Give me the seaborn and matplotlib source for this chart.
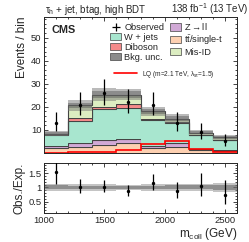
import numpy as np
import matplotlib
matplotlib.use("Agg")
import matplotlib.pyplot as plt
import seaborn as sns
from matplotlib.patches import Patch
from matplotlib.lines import Line2D

sns.set_theme(style="ticks")
plt.rcParams['font.family'] = ['Liberation Sans', 'DejaVu Sans']
plt.rcParams['mathtext.fontset'] = 'custom'
plt.rcParams['mathtext.rm'] = 'Liberation Sans'
plt.rcParams['mathtext.it'] = 'Liberation Sans:italic'

# ---- data ----
bin_edges = [1000, 1200, 1400, 1600, 1800, 2000, 2200, 2400, 2600]
bin_centers = [1100, 1300, 1500, 1700, 1900, 2100, 2300, 2500]
ttbar = [2.0, 2.7, 3.4, 4.2, 2.0, 2.7, 1.3, 0.9]
zll = [0.8, 1.4, 2.0, 2.0, 1.0, 1.8, 0.3, 0.2]
wjets = [5.2, 9.6, 13.6, 13.5, 11.3, 8.4, 6.2, 4.5]
diboson = [0.1, 1.4, 1.1, 1.5, 0.3, 0.7, 0.2, 0.2]
misid = [0.3, 5.5, 5.1, 4.1, 3.4, 1.2, 0.7, 0.9]
signal = [0.1, 0.2, 0.3, 1.2, 3.8, 5.1, 1.5, 0.6]
observed = [13, 21, 26, 22, 21, 13, 9, 5]
obs_err_lo = [3.6, 4.6, 5.1, 4.7, 4.6, 3.6, 2.9, 2.2]
obs_err_hi = [4.7, 5.6, 6.2, 5.8, 5.6, 4.7, 4.1, 3.4]
unc_inner = [0.07, 0.06, 0.06, 0.06, 0.06, 0.07, 0.07, 0.08]
unc_outer = [0.12, 0.12, 0.11, 0.10, 0.11, 0.13, 0.13, 0.15]

colors = {
    "tt": "#fdd0b1",
    "zll": "#d1a9d6",
    "wjets": "#a8e6cf",
    "diboson": "#f48a8a",
    "misid": "#dcedc1",
}
edgec = "#444444"

fig = plt.figure(figsize=(2.49, 2.42), dpi=100)
ax = fig.add_axes([0.177, 0.368, 0.775, 0.562])
axr = fig.add_axes([0.177, 0.12, 0.775, 0.206], sharex=ax)

edges = np.array(bin_edges, dtype=float)
comps = [(ttbar, "tt"), (zll, "zll"), (wjets, "wjets"), (diboson, "diboson"), (misid, "misid")]
bottom = np.zeros(len(bin_centers))
for vals, key in comps:
    v = np.array(vals)
    top = bottom + v
    ax.stairs(top, edges, baseline=bottom, fill=True, color=colors[key], lw=0)
    ax.stairs(top, edges, baseline=None, color=edgec, lw=0.8)
    bottom = top
total = bottom
inner = np.array(unc_inner) * total
outer = np.array(unc_outer) * total
ax.stairs(total + outer, edges, baseline=total - outer, fill=True, color="#777777", alpha=0.5, lw=0)
ax.stairs(total + inner, edges, baseline=total - inner, fill=True, color="#555555", alpha=0.45, lw=0)
ax.stairs(np.array(signal), edges, baseline=None, color="red", lw=1.2)

sns.scatterplot(x=bin_centers, y=observed, ax=ax, color="black", s=6, marker="o", linewidth=0, zorder=5, legend=False)
ax.errorbar(bin_centers, observed, yerr=[obs_err_lo, obs_err_hi], fmt="none", ecolor="black", elinewidth=0.9, capsize=0, zorder=5)

ax.set_xlim(1000, 2600)
ax.set_ylim(0, 59)
ax.set_yticks([10, 20, 30, 40, 50])
ax.set_ylabel("Events / bin", fontsize=8.5, loc="top", labelpad=2)
ax.tick_params(axis="both", which="both", direction="in", top=True, right=True, labelsize=6.8, length=3, width=0.6, pad=2)
ax.minorticks_on()
ax.tick_params(which="minor", length=1.5)
plt.setp(ax.get_xticklabels(), visible=False)
for s in ax.spines.values():
    s.set_linewidth(0.7)

ax.text(0.04, 0.94, "CMS", transform=ax.transAxes, fontsize=7.8, fontweight="bold", va="top", ha="left")
fig.text(0.18, 0.947, r"$\mathregular{\tau_h}$ + jet, btag, high BDT", fontsize=7, ha="left", va="baseline")
fig.text(0.998, 0.947, r"138 fb$\mathregular{^{-1}}$ (13 TeV)", fontsize=7, ha="right", va="baseline")

handles = [
    Line2D([], [], color="black", marker="+", markersize=5.5, lw=0, markeredgewidth=0.9),
    Patch(facecolor=colors["wjets"], edgecolor=edgec, lw=0.5),
    Patch(facecolor=colors["diboson"], edgecolor=edgec, lw=0.5),
    Patch(facecolor="#8c8c8c", edgecolor=edgec, lw=0.5),
    Patch(facecolor=colors["zll"], edgecolor=edgec, lw=0.5),
    Patch(facecolor=colors["tt"], edgecolor=edgec, lw=0.5),
    Patch(facecolor=colors["misid"], edgecolor=edgec, lw=0.5),
]
labels = ["Observed", "W + jets", "Diboson", "Bkg. unc.", r"Z$\rightarrow$ll",
          r"t$\mathregular{\bar{t}}$/single-t", "Mis-ID"]
leg = ax.legend(handles, labels, ncol=2, loc="upper left",
                bbox_to_anchor=(0.415, 0.94), bbox_transform=fig.transFigure,
                fontsize=6.7, frameon=False, handlelength=1.25, handleheight=0.85,
                handletextpad=0.3, columnspacing=0.6, labelspacing=0.1, borderpad=0.2)
ax.add_artist(leg)
leg2 = ax.legend([Line2D([], [], color="red", lw=1.2)],
                 [r"LQ (m=2.1 TeV, $\mathregular{\lambda_{s\tau}}$=1.5)"],
                 loc="upper left", bbox_to_anchor=(0.44, 0.735), bbox_transform=fig.transFigure,
                 fontsize=4.7, frameon=False,
                 handlelength=3.5, handletextpad=0.8, borderpad=0.2)

# ratio panel
ratio = np.array(observed) / total
r_lo = np.array(obs_err_lo) / total
r_hi = np.array(obs_err_hi) / total
axr.stairs(1 + np.array(unc_outer), edges, baseline=1 - np.array(unc_outer), fill=True, color="#8a8a8a", alpha=0.5, lw=0)
axr.stairs(1 + np.array(unc_inner), edges, baseline=1 - np.array(unc_inner), fill=True, color="#5a5a5a", alpha=0.5, lw=0)
sns.scatterplot(x=bin_centers, y=ratio, ax=axr, color="black", s=6, marker="o", linewidth=0, zorder=5, legend=False)
axr.errorbar(bin_centers, ratio, yerr=[r_lo, r_hi], fmt="none", ecolor="black", elinewidth=0.9, capsize=0, zorder=5)
axr.set_ylim(0.1, 1.86)
axr.set_yticks([0.5, 1.0, 1.5])
axr.set_yticklabels(["0.5", "1", "1.5"])
axr.set_xticks([1000, 1500, 2000, 2500])
axr.set_ylabel("Obs./Exp.", fontsize=8.5, labelpad=2)
axr.set_xlabel(r"m$\mathregular{_{coll}}$ (GeV)", fontsize=8.5, loc="right", labelpad=1)
axr.tick_params(axis="both", which="both", direction="in", top=True, right=True, labelsize=6.8, length=3, width=0.6, pad=2)
axr.minorticks_on()
axr.tick_params(which="minor", length=1.5)
for s in axr.spines.values():
    s.set_linewidth(0.7)
fig.align_ylabels([ax, axr])

fig.savefig("out.png", dpi=100)
